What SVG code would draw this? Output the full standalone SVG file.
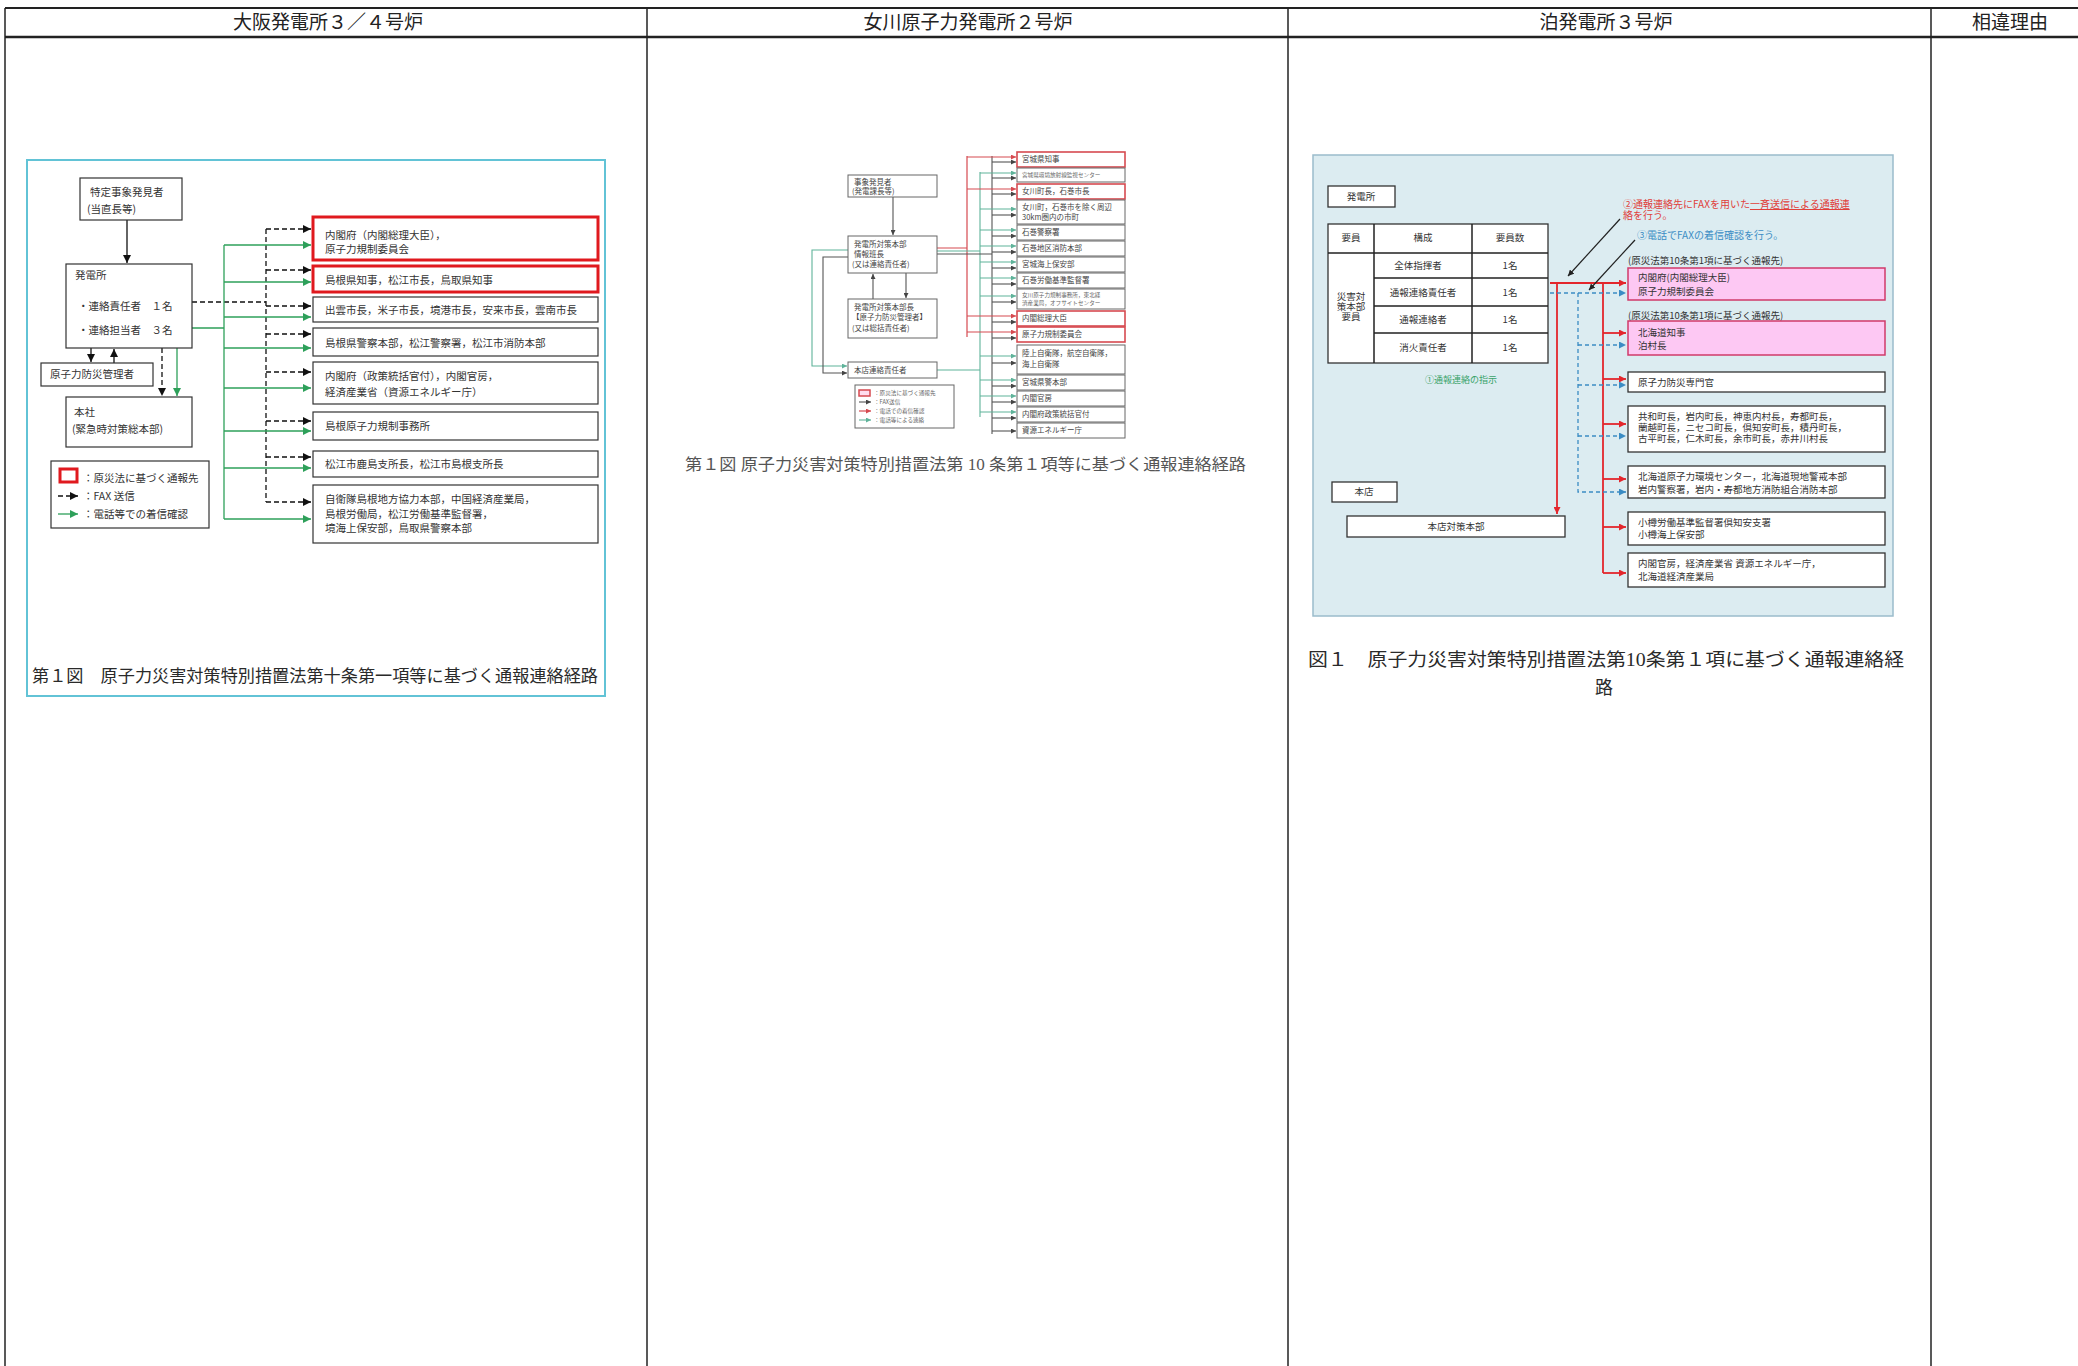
<svg xmlns="http://www.w3.org/2000/svg" width="2078" height="1366" viewBox="0 0 2078 1366">
<defs>
<style>
text{font-family:"Noto Sans CJK JP","Liberation Sans",sans-serif;fill:#2a2a2a}
.hdr{font-family:"Liberation Serif","Noto Sans CJK JP",serif;font-size:19px;text-anchor:middle;fill:#222}
.cap{font-family:"Liberation Serif","Noto Sans CJK JP",serif}
.box{fill:#fff;stroke:#333;stroke-width:1.2}
.rbox{fill:#fff;stroke:#e0191e;stroke-width:3}
.lt{font-size:10.5px;fill:#333}
.dash{stroke:#111;stroke-width:1.3;stroke-dasharray:5 3;fill:none}
.grn{stroke:#2ea05a;stroke-width:1.3;fill:none}
.mbox{fill:#fff;stroke:#666;stroke-width:1}
.mrbox{fill:#fff;stroke:#d64a50;stroke-width:1.6}
.mt{font-size:7.5px;fill:#444}
.ms{font-size:5.6px;fill:#666}
.mred{stroke:#d64a50;stroke-width:1.2;fill:none}
.mgrn{stroke:#5fb39a;stroke-width:1.1;fill:none}
.mblk{stroke:#555;stroke-width:1.1;fill:none}
.tbox{fill:#fff;stroke:#333;stroke-width:1.3}
.pbox{fill:#fdc8f3;stroke:#cf3a6a;stroke-width:1.5}
.tt{font-size:9.5px;fill:#333}
.tc{font-size:9.5px;fill:#333;text-anchor:middle}
.rln{stroke:#e3262c;stroke-width:1.8;fill:none}
.bln{stroke:#3b8cc4;stroke-width:1.3;stroke-dasharray:4 3;fill:none}
.tl{stroke:#222;stroke-width:1.5;fill:none}
</style>
<marker id="ab" viewBox="0 0 10 10" refX="10" refY="5" markerWidth="8" markerHeight="8" orient="auto" markerUnits="userSpaceOnUse"><path d="M0,0 L10,5 L0,10 z" fill="#111"/></marker>
<marker id="ag" viewBox="0 0 10 10" refX="10" refY="5" markerWidth="8" markerHeight="8" orient="auto" markerUnits="userSpaceOnUse"><path d="M0,0 L10,5 L0,10 z" fill="#2ea05a"/></marker>
<marker id="mb" viewBox="0 0 10 10" refX="10" refY="5" markerWidth="5" markerHeight="5" orient="auto" markerUnits="userSpaceOnUse"><path d="M0,0 L10,5 L0,10 z" fill="#444"/></marker>
<marker id="mr" viewBox="0 0 10 10" refX="10" refY="5" markerWidth="5" markerHeight="5" orient="auto" markerUnits="userSpaceOnUse"><path d="M0,0 L10,5 L0,10 z" fill="#d64a50"/></marker>
<marker id="mg" viewBox="0 0 10 10" refX="10" refY="5" markerWidth="5" markerHeight="5" orient="auto" markerUnits="userSpaceOnUse"><path d="M0,0 L10,5 L0,10 z" fill="#5fb39a"/></marker>
<marker id="tr" viewBox="0 0 10 10" refX="10" refY="5" markerWidth="7" markerHeight="7" orient="auto" markerUnits="userSpaceOnUse"><path d="M0,0 L10,5 L0,10 z" fill="#e3262c"/></marker>
<marker id="tb" viewBox="0 0 10 10" refX="10" refY="5" markerWidth="7" markerHeight="7" orient="auto" markerUnits="userSpaceOnUse"><path d="M0,0 L10,5 L0,10 z" fill="#3b8cc4"/></marker>
<marker id="tg" viewBox="0 0 10 10" refX="10" refY="5" markerWidth="8" markerHeight="8" orient="auto" markerUnits="userSpaceOnUse"><path d="M0,0 L10,5 L0,10 z" fill="#1f9e5a"/></marker>
<marker id="tk" viewBox="0 0 10 10" refX="10" refY="5" markerWidth="6" markerHeight="6" orient="auto" markerUnits="userSpaceOnUse"><path d="M0,0 L10,5 L0,10 z" fill="#222"/></marker>
</defs>
<rect x="0" y="0" width="2078" height="1366" fill="#fff"/>

<!-- outer table -->
<g id="table">
<line x1="5" y1="8" x2="2078" y2="8" stroke="#222" stroke-width="2"/>
<line x1="5" y1="37" x2="2078" y2="37" stroke="#222" stroke-width="2.5"/>
<line x1="5" y1="8" x2="5" y2="1366" stroke="#222" stroke-width="1.5"/>
<line x1="647" y1="8" x2="647" y2="1366" stroke="#222" stroke-width="1.5"/>
<line x1="1288" y1="8" x2="1288" y2="1366" stroke="#222" stroke-width="1.5"/>
<line x1="1931" y1="8" x2="1931" y2="1366" stroke="#222" stroke-width="1.5"/>
<text class="hdr" x="328" y="29">大阪発電所３／４号炉</text>
<text class="hdr" x="968" y="29">女川原子力発電所２号炉</text>
<text class="hdr" x="1606" y="29">泊発電所３号炉</text>
<text class="hdr" x="2010" y="29">相違理由</text>
</g>

<!-- ===== Ohi diagram ===== -->
<rect x="27" y="160" width="578" height="536" fill="#fff" stroke="#62c3d6" stroke-width="2"/>
<g id="ohi-connectors">
<line x1="127" y1="220" x2="127" y2="263" stroke="#111" stroke-width="1.3" marker-end="url(#ab)"/>
<line x1="91" y1="348" x2="91" y2="362" stroke="#111" stroke-width="1.3" marker-end="url(#ab)"/>
<line x1="114" y1="363" x2="114" y2="349" stroke="#111" stroke-width="1.3" marker-end="url(#ab)"/>
<line x1="162" y1="348" x2="162" y2="396" class="dash" marker-end="url(#ab)"/>
<line x1="177" y1="348" x2="177" y2="396" class="grn" marker-end="url(#ag)"/>
<path class="dash" d="M192,302 H266 M266,229 V502"/>
<path class="grn" d="M192,328 H224 M224,245 V519"/>
<path class="dash" marker-end="url(#ab)" d="M266,229 H311"/>
<path class="dash" marker-end="url(#ab)" d="M266,270 H311"/>
<path class="dash" marker-end="url(#ab)" d="M266,306 H311"/>
<path class="dash" marker-end="url(#ab)" d="M266,334 H311"/>
<path class="dash" marker-end="url(#ab)" d="M266,372 H311"/>
<path class="dash" marker-end="url(#ab)" d="M266,421 H311"/>
<path class="dash" marker-end="url(#ab)" d="M266,457 H311"/>
<path class="dash" marker-end="url(#ab)" d="M266,502 H311"/>
<path class="grn" marker-end="url(#ag)" d="M224,245 H311"/>
<path class="grn" marker-end="url(#ag)" d="M224,282 H311"/>
<path class="grn" marker-end="url(#ag)" d="M224,317 H311"/>
<path class="grn" marker-end="url(#ag)" d="M224,348 H311"/>
<path class="grn" marker-end="url(#ag)" d="M224,388 H311"/>
<path class="grn" marker-end="url(#ag)" d="M224,431 H311"/>
<path class="grn" marker-end="url(#ag)" d="M224,468 H311"/>
<path class="grn" marker-end="url(#ag)" d="M224,519 H311"/>
</g>
<g id="ohi-finder"><rect class="box" x="80" y="178" width="102" height="42"/><text class="lt" x="90" y="196">特定事象発見者</text><text class="lt" x="87" y="213">(当直長等)</text></g>
<g id="ohi-plant"><rect class="box" x="66" y="264" width="126" height="84"/><text class="lt" x="75" y="279">発電所</text><text class="lt" x="78" y="310">・連絡責任者　１名</text><text class="lt" x="78" y="334">・連絡担当者　３名</text></g>
<g id="ohi-manager"><rect class="box" x="41" y="363" width="112" height="23"/><text class="lt" x="50" y="378">原子力防災管理者</text></g>
<g id="ohi-hq"><rect class="box" x="66" y="397" width="126" height="50"/><text class="lt" x="74" y="416">本社</text><text class="lt" x="72" y="433">(緊急時対策総本部)</text></g>
<g id="ohi-legend"><rect class="box" x="51" y="461" width="158" height="67"/>
<rect x="60" y="469" width="17" height="13" fill="#fff" stroke="#e0191e" stroke-width="3"/>
<text class="lt" x="83" y="482">：原災法に基づく通報先</text>
<line x1="58" y1="496" x2="78" y2="496" class="dash" marker-end="url(#ab)"/>
<text class="lt" x="83" y="500">：FAX 送信</text>
<line x1="58" y1="514" x2="78" y2="514" class="grn" marker-end="url(#ag)"/>
<text class="lt" x="83" y="518">：電話等での着信確認</text></g>
<g id="ohi-d1"><rect class="rbox" x="313" y="217" width="285" height="43"/><text class="lt" x="325" y="239">内閣府（内閣総理大臣），</text><text class="lt" x="325" y="253">原子力規制委員会</text></g>
<g id="ohi-d2"><rect class="rbox" x="313" y="266" width="285" height="26"/><text class="lt" x="325" y="284">島根県知事，松江市長，鳥取県知事</text></g>
<g id="ohi-d3"><rect class="box" x="313" y="297" width="285" height="25"/><text class="lt" x="325" y="314">出雲市長，米子市長，境港市長，安来市長，雲南市長</text></g>
<g id="ohi-d4"><rect class="box" x="313" y="328" width="285" height="28"/><text class="lt" x="325" y="347">島根県警察本部，松江警察署，松江市消防本部</text></g>
<g id="ohi-d5"><rect class="box" x="313" y="362" width="285" height="42"/><text class="lt" x="325" y="380">内閣府（政策統括官付），内閣官房，</text><text class="lt" x="325" y="396">経済産業省（資源エネルギー庁）</text></g>
<g id="ohi-d6"><rect class="box" x="313" y="412" width="285" height="28"/><text class="lt" x="325" y="430">島根原子力規制事務所</text></g>
<g id="ohi-d7"><rect class="box" x="313" y="451" width="285" height="26"/><text class="lt" x="325" y="468">松江市鹿島支所長，松江市島根支所長</text></g>
<g id="ohi-d8"><rect class="box" x="313" y="485" width="285" height="58"/><text class="lt" x="325" y="503">自衛隊島根地方協力本部，中国経済産業局，</text><text class="lt" x="325" y="518">島根労働局，松江労働基準監督署，</text><text class="lt" x="325" y="532">境海上保安部，鳥取県警察本部</text></g>
<text class="cap" x="32" y="682" font-size="17" textLength="566" lengthAdjust="spacingAndGlyphs">第１図　原子力災害対策特別措置法第十条第一項等に基づく通報連絡経路</text>

<!-- ===== Onagawa diagram ===== -->
<g id="ona-connectors">
<line x1="893" y1="197" x2="893" y2="235" class="mblk" marker-end="url(#mb)"/>
<line x1="873" y1="299" x2="873" y2="274" class="mblk" marker-end="url(#mb)"/>
<line x1="906" y1="273" x2="906" y2="298" class="mblk" marker-end="url(#mb)"/>
<path class="mgrn" d="M848,250 H812 V366 H847" marker-end="url(#mg)"/>
<path class="mblk" d="M848,257 H823 V373 H847" marker-end="url(#mb)"/>
<path class="mred" d="M937,248 H967 M967,156 V337"/>
<path class="mgrn" d="M937,251 H980 M980,172 V417 M937,370 H980"/>
<path class="mblk" d="M937,254 H992 M992,156 V434"/>
<path class="mred" marker-end="url(#mr)" d="M967,157 H1016"/>
<path class="mred" marker-end="url(#mr)" d="M967,189 H1016"/>
<path class="mred" marker-end="url(#mr)" d="M967,316 H1016"/>
<path class="mred" marker-end="url(#mr)" d="M967,332 H1016"/>
<path class="mgrn" marker-end="url(#mg)" d="M980,173 H1016"/>
<path class="mgrn" marker-end="url(#mg)" d="M980,209 H1016"/>
<path class="mgrn" marker-end="url(#mg)" d="M980,230 H1016"/>
<path class="mgrn" marker-end="url(#mg)" d="M980,246 H1016"/>
<path class="mgrn" marker-end="url(#mg)" d="M980,262 H1016"/>
<path class="mgrn" marker-end="url(#mg)" d="M980,278 H1016"/>
<path class="mgrn" marker-end="url(#mg)" d="M980,296 H1016"/>
<path class="mgrn" marker-end="url(#mg)" d="M980,356 H1016"/>
<path class="mgrn" marker-end="url(#mg)" d="M980,380 H1016"/>
<path class="mgrn" marker-end="url(#mg)" d="M980,396 H1016"/>
<path class="mgrn" marker-end="url(#mg)" d="M980,412 H1016"/>
<path class="mblk" marker-end="url(#mb)" d="M992,162 H1016"/>
<path class="mblk" marker-end="url(#mb)" d="M992,178 H1016"/>
<path class="mblk" marker-end="url(#mb)" d="M992,194 H1016"/>
<path class="mblk" marker-end="url(#mb)" d="M992,215 H1016"/>
<path class="mblk" marker-end="url(#mb)" d="M992,236 H1016"/>
<path class="mblk" marker-end="url(#mb)" d="M992,252 H1016"/>
<path class="mblk" marker-end="url(#mb)" d="M992,268 H1016"/>
<path class="mblk" marker-end="url(#mb)" d="M992,284 H1016"/>
<path class="mblk" marker-end="url(#mb)" d="M992,302 H1016"/>
<path class="mblk" marker-end="url(#mb)" d="M992,322 H1016"/>
<path class="mblk" marker-end="url(#mb)" d="M992,338 H1016"/>
<path class="mblk" marker-end="url(#mb)" d="M992,363 H1016"/>
<path class="mblk" marker-end="url(#mb)" d="M992,386 H1016"/>
<path class="mblk" marker-end="url(#mb)" d="M992,402 H1016"/>
<path class="mblk" marker-end="url(#mb)" d="M992,418 H1016"/>
<path class="mblk" marker-end="url(#mb)" d="M992,431 H1016"/>
</g>
<g id="ona-finder"><rect class="mbox" x="848" y="175" width="89" height="22"/><text class="mt" x="854" y="185">事象発見者</text><text class="mt" x="852" y="194">(発電課長等)</text></g>
<g id="ona-info"><rect class="mbox" x="848" y="236" width="89" height="37"/><text class="mt" x="854" y="247">発電所対策本部</text><text class="mt" x="854" y="257">情報班長</text><text class="mt" x="852" y="267">(又は連絡責任者)</text></g>
<g id="ona-chief"><rect class="mbox" x="848" y="299" width="89" height="39"/><text class="mt" x="854" y="310">発電所対策本部長</text><text class="mt" x="852" y="320">【原子力防災管理者】</text><text class="mt" x="852" y="331">(又は総括責任者)</text></g>
<g id="ona-hq"><rect class="mbox" x="848" y="362" width="89" height="16"/><text class="mt" x="854" y="373">本店連絡責任者</text></g>
<g id="ona-legend"><rect class="mbox" x="855" y="385" width="99" height="43"/>
<rect x="859" y="390" width="11" height="6" fill="#fde" stroke="#d64a50" stroke-width="1.5"/><text class="ms" x="874" y="395">：原災法に基づく通報先</text>
<line x1="859" y1="402" x2="871" y2="402" class="mblk" marker-end="url(#mb)"/><text class="ms" x="874" y="404">：FAX送信</text>
<line x1="859" y1="411" x2="871" y2="411" class="mred" marker-end="url(#mr)"/><text class="ms" x="874" y="413">：電話での着信確認</text>
<line x1="859" y1="420" x2="871" y2="420" class="mgrn" marker-end="url(#mg)"/><text class="ms" x="874" y="422">：電話等による連絡</text></g>
<g id="ona-r1"><rect class="mrbox" x="1017" y="152" width="108" height="15"/><text class="mt" x="1022" y="162">宮城県知事</text></g>
<g id="ona-r2"><rect class="mbox" x="1017" y="168" width="108" height="14"/><text class="ms" x="1022" y="177">宮城県環境放射線監視センター</text></g>
<g id="ona-r3"><rect class="mrbox" x="1017" y="184" width="108" height="15"/><text class="mt" x="1022" y="194">女川町長，石巻市長</text></g>
<g id="ona-r4"><rect class="mbox" x="1017" y="200" width="108" height="24"/><text class="mt" x="1022" y="210">女川町，石巻市を除く周辺</text><text class="mt" x="1022" y="220">30km圏内の市町</text></g>
<g id="ona-r5"><rect class="mbox" x="1017" y="225" width="108" height="15"/><text class="mt" x="1022" y="235">石巻警察署</text></g>
<g id="ona-r6"><rect class="mbox" x="1017" y="241" width="108" height="15"/><text class="mt" x="1022" y="251">石巻地区消防本部</text></g>
<g id="ona-r7"><rect class="mbox" x="1017" y="257" width="108" height="15"/><text class="mt" x="1022" y="267">宮城海上保安部</text></g>
<g id="ona-r8"><rect class="mbox" x="1017" y="273" width="108" height="15"/><text class="mt" x="1022" y="283">石巻労働基準監督署</text></g>
<g id="ona-r9"><rect class="mbox" x="1017" y="289" width="108" height="20"/><text class="ms" x="1022" y="297">女川原子力規制事務所，東北経</text><text class="ms" x="1022" y="305">済産業局，オフサイトセンター</text></g>
<g id="ona-r10"><rect class="mrbox" x="1017" y="311" width="108" height="15"/><text class="mt" x="1022" y="321">内閣総理大臣</text></g>
<g id="ona-r11"><rect class="mrbox" x="1017" y="327" width="108" height="15"/><text class="mt" x="1022" y="337">原子力規制委員会</text></g>
<g id="ona-r12"><rect class="mbox" x="1017" y="345" width="108" height="29"/><text class="mt" x="1022" y="356">陸上自衛隊，航空自衛隊，</text><text class="mt" x="1022" y="367">海上自衛隊</text></g>
<g id="ona-r13"><rect class="mbox" x="1017" y="375" width="108" height="15"/><text class="mt" x="1022" y="385">宮城県警本部</text></g>
<g id="ona-r14"><rect class="mbox" x="1017" y="391" width="108" height="15"/><text class="mt" x="1022" y="401">内閣官房</text></g>
<g id="ona-r15"><rect class="mbox" x="1017" y="407" width="108" height="15"/><text class="mt" x="1022" y="417">内閣府政策統括官付</text></g>
<g id="ona-r16"><rect class="mbox" x="1017" y="423" width="108" height="15"/><text class="mt" x="1022" y="433">資源エネルギー庁</text></g>
<text class="cap" x="685" y="470" font-size="16" style="fill:#555" textLength="561" lengthAdjust="spacingAndGlyphs">第１図 原子力災害対策特別措置法第 10 条第１項等に基づく通報連絡経路</text>

<!-- ===== Tomari diagram ===== -->
<rect x="1313" y="155" width="580" height="461" fill="#dcecf1" stroke="#9bbccb" stroke-width="1.5"/>
<g id="tom-connectors">
<path class="rln" d="M1550,283 H1626" marker-end="url(#tr)"/>
<path class="rln" d="M1557,283 V514" marker-end="url(#tr)"/>
<path class="rln" d="M1603,283 V573"/>
<path class="rln" marker-end="url(#tr)" d="M1603,333 H1626"/>
<path class="rln" marker-end="url(#tr)" d="M1603,379 H1626"/>
<path class="rln" marker-end="url(#tr)" d="M1603,424 H1626"/>
<path class="rln" marker-end="url(#tr)" d="M1603,479 H1626"/>
<path class="rln" marker-end="url(#tr)" d="M1603,527 H1626"/>
<path class="rln" marker-end="url(#tr)" d="M1603,573 H1626"/>
<path class="bln" d="M1550,293 H1626" marker-end="url(#tb)"/>
<path class="bln" d="M1578,293 V492 H1626" marker-end="url(#tb)"/>
<path class="bln" marker-end="url(#tb)" d="M1578,345 H1626"/>
<path class="bln" marker-end="url(#tb)" d="M1578,385 H1626"/>
<path class="bln" marker-end="url(#tb)" d="M1578,436 H1626"/>
<path d="M1460,262 H1488 V283 H1464" stroke="#1f9e5a" stroke-width="2" fill="none" marker-end="url(#tg)"/>
<line x1="1620" y1="219" x2="1568" y2="276" stroke="#222" stroke-width="1.2" marker-end="url(#tk)"/>
<line x1="1635" y1="240" x2="1589" y2="290" stroke="#222" stroke-width="1.2" marker-end="url(#tk)"/>
</g>
<g id="tom-plant"><rect class="tbox" x="1328" y="186" width="67" height="21"/><text class="tc" x="1361" y="200">発電所</text></g>
<g id="tom-table">
<rect class="tbox" x="1328" y="224" width="220" height="139"/>
<path class="tl" d="M1374,224 V363 M1472,224 V363 M1328,253 H1548 M1374,278 H1548 M1374,306 H1548 M1374,333 H1548"/>
<text class="tc" x="1351" y="241">要員</text><text class="tc" x="1423" y="241">構成</text><text class="tc" x="1510" y="241">要員数</text>
<text class="tc" x="1351" y="300">災害対</text><text class="tc" x="1351" y="310">策本部</text><text class="tc" x="1351" y="320">要員</text>
<text class="tc" x="1418" y="269">全体指揮者</text><text class="tc" x="1510" y="269">1名</text>
<text class="tc" x="1423" y="296">通報連絡責任者</text><text class="tc" x="1510" y="296">1名</text>
<text class="tc" x="1423" y="323">通報連絡者</text><text class="tc" x="1510" y="323">1名</text>
<text class="tc" x="1423" y="351">消火責任者</text><text class="tc" x="1510" y="351">1名</text>
</g>
<text x="1461" y="383" font-size="9" text-anchor="middle" style="fill:#3aa36a">①通報連絡の指示</text>
<g id="tom-honten"><rect class="tbox" x="1332" y="482" width="65" height="20"/><text class="tc" x="1364" y="495">本店</text></g>
<g id="tom-hq"><rect class="tbox" x="1347" y="516" width="218" height="21"/><text class="tc" x="1456" y="530">本店対策本部</text></g>
<text x="1623" y="208" font-size="10" style="fill:#e0403a">②通報連絡先にFAXを用いた<tspan text-decoration="underline">一斉送信による通報連</tspan></text>
<text x="1623" y="219" font-size="10" style="fill:#e0403a">絡を行う。</text>
<text x="1637" y="239" font-size="10" style="fill:#3b8cc4">③電話でFAXの着信確認を行う。</text>
<text class="tt" x="1628" y="264">(原災法第10条第1項に基づく通報先)</text>
<g id="tom-d1"><rect class="pbox" x="1628" y="268" width="257" height="32"/><text class="tt" x="1638" y="281">内閣府(内閣総理大臣)</text><text class="tt" x="1638" y="295">原子力規制委員会</text></g>
<text class="tt" x="1628" y="319">(原災法第10条第1項に基づく通報先)</text>
<g id="tom-d2"><rect class="pbox" x="1628" y="321" width="257" height="34"/><text class="tt" x="1638" y="336">北海道知事</text><text class="tt" x="1638" y="349">泊村長</text></g>
<g id="tom-d3"><rect class="tbox" x="1628" y="372" width="257" height="20"/><text class="tt" x="1638" y="386">原子力防災専門官</text></g>
<g id="tom-d4"><rect class="tbox" x="1628" y="406" width="257" height="46"/><text class="tt" x="1638" y="420">共和町長，岩内町長，神恵内村長，寿都町長，</text><text class="tt" x="1638" y="431">蘭越町長，ニセコ町長，倶知安町長，積丹町長，</text><text class="tt" x="1638" y="442">古平町長，仁木町長，余市町長，赤井川村長</text></g>
<g id="tom-d5"><rect class="tbox" x="1628" y="466" width="257" height="32"/><text class="tt" x="1638" y="480">北海道原子力環境センター，北海道現地警戒本部</text><text class="tt" x="1638" y="493">岩内警察署，岩内・寿都地方消防組合消防本部</text></g>
<g id="tom-d6"><rect class="tbox" x="1628" y="512" width="257" height="33"/><text class="tt" x="1638" y="526">小樽労働基準監督署倶知安支署</text><text class="tt" x="1638" y="538">小樽海上保安部</text></g>
<g id="tom-d7"><rect class="tbox" x="1628" y="553" width="257" height="34"/><text class="tt" x="1638" y="567">内閣官房，経済産業省 資源エネルギー庁，</text><text class="tt" x="1638" y="580">北海道経済産業局</text></g>
<text class="cap" x="1308" y="666" font-size="18" textLength="596" lengthAdjust="spacingAndGlyphs">図１　原子力災害対策特別措置法第10条第１項に基づく通報連絡経</text>
<text class="cap" x="1604" y="694" font-size="18" text-anchor="middle">路</text>
</svg>
